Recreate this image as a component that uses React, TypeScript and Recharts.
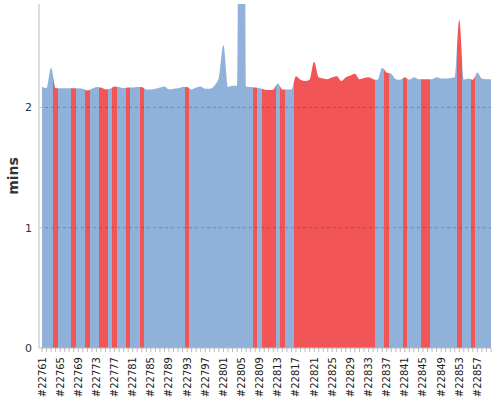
import React from "react"
import { AreaChart, Area, XAxis, YAxis, ReferenceLine, Label } from "recharts"

// build durations in minutes, one per build starting at #22761
const firstBuild = 22761
const durations = [
  2.17, 2.16, 2.33, 2.16, 2.16, 2.16, 2.16, 2.16, 2.16, 2.155,
  2.14, 2.155, 2.17, 2.165, 2.15, 2.155, 2.175, 2.17, 2.16, 2.165,
  2.165, 2.17, 2.17, 2.15, 2.15, 2.155, 2.165, 2.175, 2.15, 2.155,
  2.16, 2.17, 2.17, 2.15, 2.165, 2.175, 2.155, 2.155, 2.18, 2.25,
  2.52, 2.17, 2.18, 2.18, 12, 2.175, 2.17, 2.165, 2.16, 2.15,
  2.145, 2.15, 2.2, 2.15, 2.15, 2.15, 2.26, 2.23, 2.22, 2.23,
  2.38, 2.25, 2.24, 2.235, 2.25, 2.26, 2.22, 2.25, 2.265, 2.28,
  2.235, 2.245, 2.25, 2.235, 2.23, 2.33, 2.29, 2.28, 2.235, 2.23,
  2.25, 2.23, 2.25, 2.235, 2.235, 2.235, 2.235, 2.25, 2.24, 2.24,
  2.245, 2.25, 2.73, 2.23, 2.24, 2.23, 2.29, 2.24, 2.235, 2.235,
]
const failedBuilds = [
  22764, 22768, 22771, 22774, 22775, 22777, 22780, 22783, 22793,
  22808, 22810, 22811, 22812, 22814,
  22817, 22818, 22819, 22820, 22821, 22822, 22823, 22824, 22825,
  22826, 22827, 22828, 22829, 22830, 22831, 22832, 22833, 22834,
  22837, 22841, 22845, 22846, 22853, 22856,
]
const yTicks = [0, 1, 2]
const gridLevels = [1, 2]

const BLUE = "#8fb1da"
const RED = "#f15555"
const FONT = "DejaVu Sans"

const data = durations.map((mins, i) => ({
  build: `#${firstBuild + i}`,
  mins,
  failed: failedBuilds.includes(firstBuild + i),
}))

function BuildTick(props: any) {
  const { x, y, payload } = props
  const idx = payload?.index ?? props.index
  if (idx % 4 !== 0) return <g />
  const ty = y + 3
  return (
    <text
      x={x}
      y={ty}
      transform={`rotate(-90, ${x}, ${ty})`}
      textAnchor="end"
      dominantBaseline="central"
      fontSize={10}
      fontFamily={FONT}
      fill="#222"
    >
      {payload.value}
    </text>
  )
}

export default function App() {
  const last = data.length - 1
  const stops = data.flatMap((d, i) => {
    const c = d.failed ? RED : BLUE
    return [
      <stop key={`a${i}`} offset={Math.max(0, (i - 0.5) / last)} stopColor={c} />,
      <stop key={`b${i}`} offset={Math.min(1, (i + 0.5) / last)} stopColor={c} />,
    ]
  })

  return (
    <div style={{ position: "absolute", left: 0, top: 0 }}>
      <AreaChart width={500} height={400} data={data} margin={{ top: 4, right: 9, bottom: 0, left: 0 }}>
        <defs>
          <linearGradient id="status" x1="0" y1="0" x2="1" y2="0">
            {stops}
          </linearGradient>
        </defs>
        <XAxis
          dataKey="build"
          interval={0}
          tick={<BuildTick />}
          tickSize={4}
          tickMargin={2}
          height={52}
          padding={{ left: 3, right: 0 }}
          stroke="#bbb"
        />
        <YAxis
          domain={[0, 2.86]}
          allowDataOverflow
          ticks={yTicks}
          width={39}
          tickLine={false}
          tickSize={0}
          tickMargin={7}
          stroke="#bbb"
          tick={{ fontSize: 11, fill: "#333", fontFamily: FONT }}
        >
          <Label
            value="mins"
            angle={-90}
            position="insideLeft"
            offset={13}
            textAnchor="middle"
            style={{ fontSize: 14, fontWeight: "bold", fill: "#333", fontFamily: FONT }}
          />
        </YAxis>
        <Area
          type="monotone"
          dataKey="mins"
          fill="url(#status)"
          fillOpacity={1}
          stroke="none"
          dot={false}
          activeDot={false}
          isAnimationActive={false}
        />
        {gridLevels.map((v) => (
          <ReferenceLine key={v} y={v} stroke="rgba(0,0,0,0.22)" strokeDasharray="3 3" />
        ))}
      </AreaChart>
    </div>
  )
}
